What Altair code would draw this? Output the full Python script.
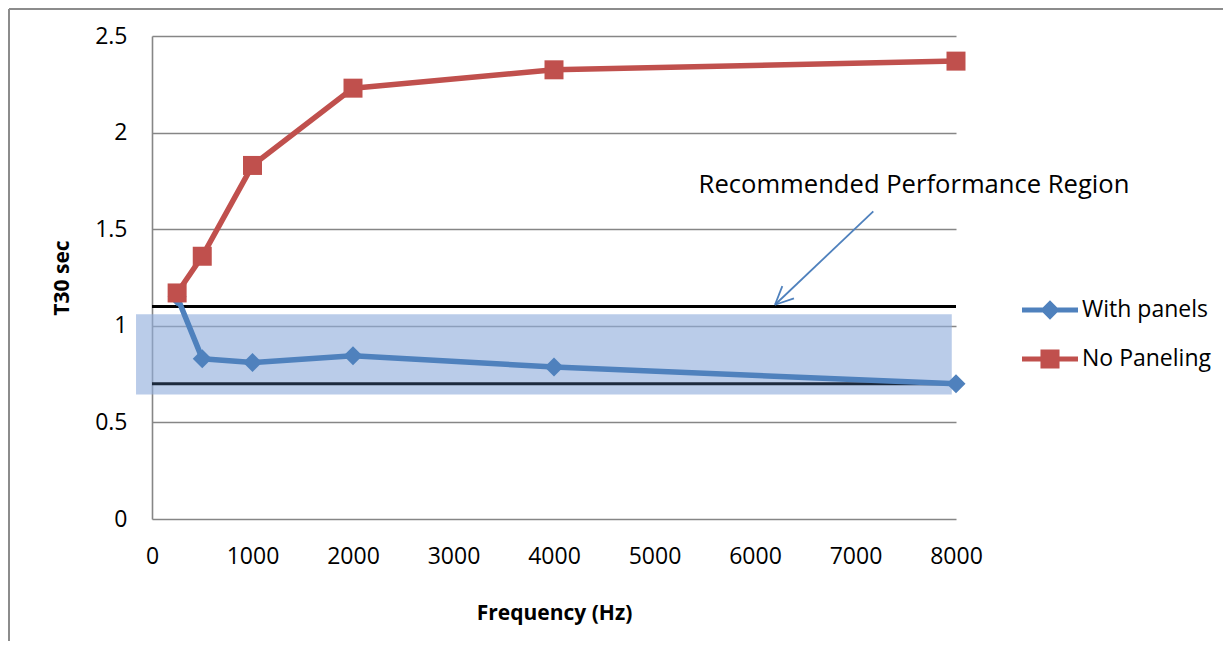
import math
import altair as alt
import pandas as pd

# ---------------- data ----------------
freq = [250, 500, 1000, 2000, 4000, 8000]
with_panels = [1.15, 0.83, 0.81, 0.845, 0.787, 0.70]
no_paneling = [1.17, 1.36, 1.83, 2.23, 2.325, 2.37]
series_names = ["With panels", "No Paneling"]
series_colors = ["#4F81BD", "#C0504D"]
series_shapes = ["diamond", "square"]

x_ticks = [0, 1000, 2000, 3000, 4000, 5000, 6000, 7000, 8000]
y_ticks = [0, 0.5, 1, 1.5, 2, 2.5]

limit_values = [1.1, 0.7]
limit_colors = ["#000000", "#1C2A3D"]
region_x = [-159, 7958]
region_y = [0.645, 1.06]

annot_text = "Recommended Performance Region"
annot_pos = [7582, 1.73]
arrow_start = [7177, 1.592]
arrow_tip = [6199, 1.109]

# ---------------- layout ----------------
W, H = 804, 483
X_DOM = [0, 8000]
Y_DOM = [0, 2.5]
FONT = "Open Sans"
GRID = "#868686"

long = pd.DataFrame({
    "freq": freq * 2,
    "t30": with_panels + no_paneling,
    "series": [n for n in series_names for _ in freq],
})

xs = alt.Scale(domain=X_DOM, nice=False, zero=False)
ys = alt.Scale(domain=Y_DOM, nice=False)

x_axis = alt.Axis(
    values=x_ticks, format="d", grid=False, ticks=False, domain=False,
    labelFlush=False, labelOverlap=False,
    labelFont=FONT, labelFontSize=23, labelColor="#000000", labelPadding=26,
    title="Frequency (Hz)", titleFont=FONT, titleFontSize=21, titleFontWeight="bold",
    titleColor="#000000", titleY=94, titleBaseline="middle",
)
y_axis = alt.Axis(
    values=y_ticks, format="~g", grid=True, gridColor=GRID, gridWidth=1.6,
    ticks=False, domain=True, domainColor=GRID, domainWidth=1.6,
    labelFlush=False, labelOverlap=False,
    labelFont=FONT, labelFontSize=23, labelColor="#000000", labelPadding=25,
    title="T30 sec", titleFont=FONT, titleFontSize=21, titleFontWeight="bold",
    titleColor="#000000", titleX=-90, titleBaseline="middle",
)


def X(field):
    return alt.X(field, type="quantitative", scale=xs, axis=x_axis)


def Y(field):
    return alt.Y(field, type="quantitative", scale=ys, axis=y_axis)


# shaded recommended region
region_df = pd.DataFrame({"x0": [region_x[0]], "x1": [region_x[1]],
                          "y0": [region_y[0]], "y1": [region_y[1]]})
region = alt.Chart(region_df).mark_rect(fill="#8FADDB", opacity=0.62).encode(
    x=X("x0"), x2="x1", y=Y("y0"), y2="y1")

# limit lines
limit_df = pd.DataFrame({"y": limit_values, "x0": [X_DOM[0]] * 2,
                         "x1": [X_DOM[1]] * 2, "c": limit_colors})
limits = alt.Chart(limit_df).mark_rule(strokeWidth=3).encode(
    x=X("x0"), x2="x1", y=Y("y"), color=alt.Color("c:N", scale=None))

layers = [region, limits]
for name, col, shp in zip(series_names, series_colors, series_shapes):
    base = alt.Chart(long).transform_filter(alt.datum.series == name)
    layers.append(base.mark_line(color=col, strokeWidth=5.5, strokeJoin="round").encode(
        x=X("freq"), y=Y("t30")))
    layers.append(base.mark_point(shape=shp, filled=True, size=361, opacity=1,
                                  color=col, strokeWidth=0).encode(
        x=X("freq"), y=Y("t30")))

# annotation text
text_df = pd.DataFrame({"x": [annot_pos[0]], "y": [annot_pos[1]], "t": [annot_text]})
layers.append(alt.Chart(text_df).mark_text(
    font=FONT, fontSize=25.6, color="#000000", align="center", baseline="middle").encode(
    x=X("x"), y=Y("y"), text="t:N"))

# arrow (shaft + open head), computed in data units
px_x = W / (X_DOM[1] - X_DOM[0])
px_y = H / (Y_DOM[1] - Y_DOM[0])
dxp = (arrow_start[0] - arrow_tip[0]) * px_x
dyp = -(arrow_start[1] - arrow_tip[1]) * px_y
ang = math.atan2(dyp, dxp)
head_len, head_ang = 20, math.radians(25)
seg_x, seg_y, seg_x2, seg_y2 = [arrow_start[0]], [arrow_start[1]], [arrow_tip[0]], [arrow_tip[1]]
for s in (1, -1):
    a = ang + s * head_ang
    seg_x.append(arrow_tip[0])
    seg_y.append(arrow_tip[1])
    seg_x2.append(arrow_tip[0] + math.cos(a) * head_len / px_x)
    seg_y2.append(arrow_tip[1] - math.sin(a) * head_len / px_y)
arrow_df = pd.DataFrame({"x": seg_x, "y": seg_y, "x2": seg_x2, "y2": seg_y2})
layers.append(alt.Chart(arrow_df).mark_rule(color="#4F81BD", strokeWidth=1.8).encode(
    x=X("x"), y=Y("y"), x2="x2", y2="y2"))

# legend (line + marker symbols)
sym_paths = [
    "M-1,-0.09L1,-0.09L1,0.09L-1,0.09Z M0,-0.345L0.345,0L0,0.345L-0.345,0Z",
    "M-1,-0.09L1,-0.09L1,0.09L-1,0.09Z M-0.34,-0.34L0.34,-0.34L0.34,0.34L-0.34,0.34Z",
]
leg = alt.Legend(orient="none", legendX=870, legendY=246, title=None,
                 labelFont=FONT, labelFontSize=23, labelColor="#000000",
                 symbolSize=3136, symbolOpacity=1, symbolStrokeWidth=0,
                 rowPadding=9, labelOffset=4, padding=0)
legend_df = pd.DataFrame({"series": series_names})
layers.append(alt.Chart(legend_df).mark_point(filled=True, opacity=0, size=3136).encode(
    color=alt.Color("series:N", scale=alt.Scale(domain=series_names, range=series_colors), legend=leg),
    shape=alt.Shape("series:N", scale=alt.Scale(domain=series_names, range=sym_paths), legend=leg),
))

# outer frame (top and left edges of the chart border)
frame_df = pd.DataFrame({"k": [0]})
layers.append(alt.Chart(frame_df).mark_rule(color="#8C8C8C", strokeWidth=2).encode(
    x=alt.value(-143), x2=alt.value(1400), y=alt.value(-27)))
layers.append(alt.Chart(frame_df).mark_rule(color="#8C8C8C", strokeWidth=2).encode(
    x=alt.value(-143), y=alt.value(-27), y2=alt.value(1000)))

chart = alt.layer(*layers).properties(
    width=W, height=H,
    padding={"left": 144, "top": 28, "right": 267, "bottom": 122},
    autosize=alt.AutoSizeParams(type="none"),
    background="white",
).configure_view(strokeWidth=0, stroke="transparent")

chart.save("out.html", embed_options={"renderer": "svg", "actions": False})
